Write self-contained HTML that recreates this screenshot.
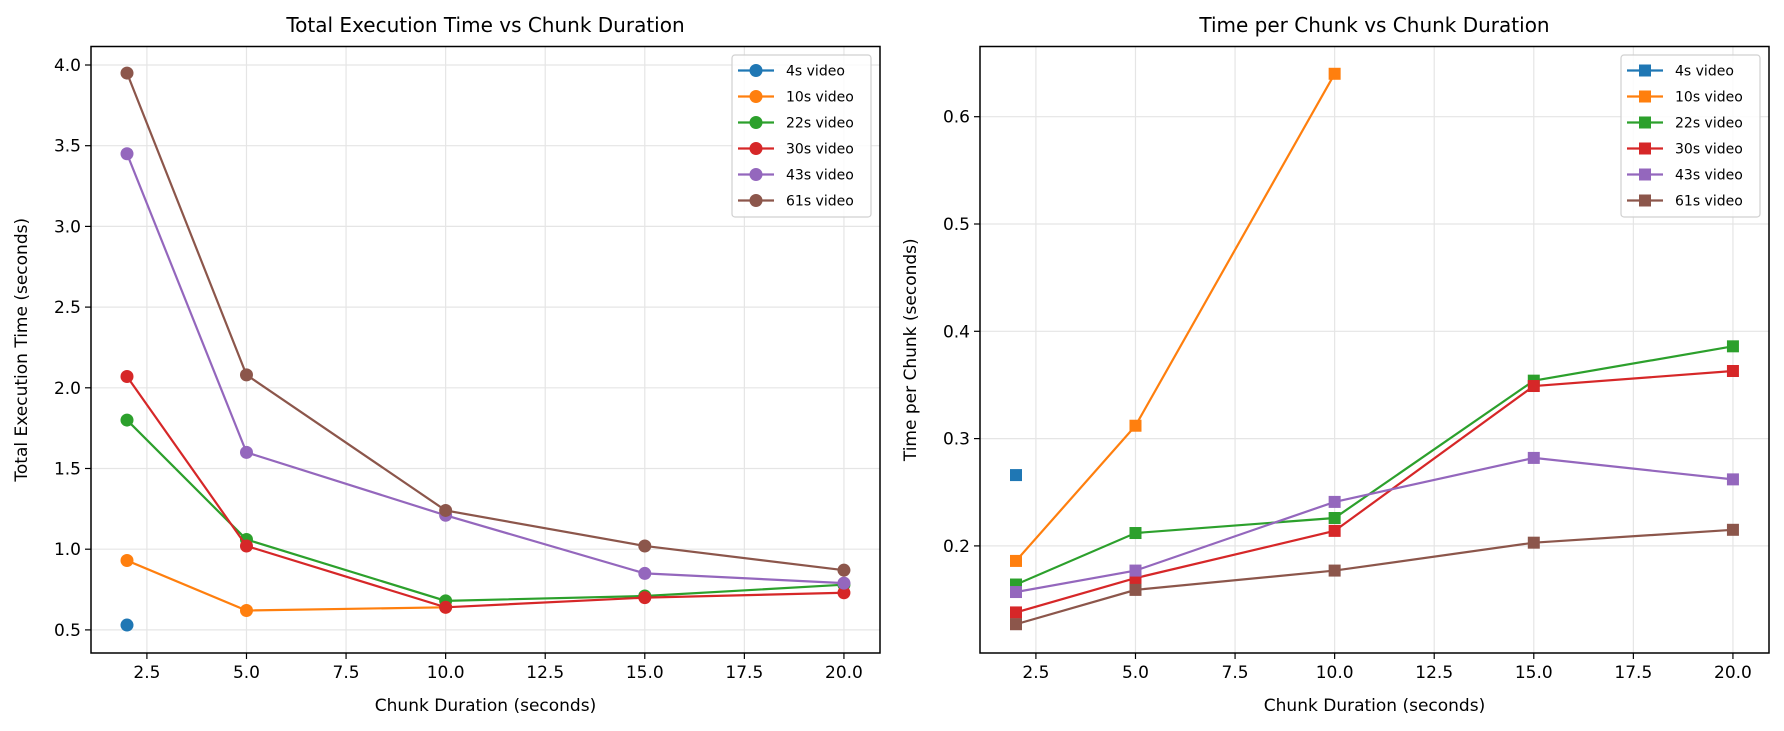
<!DOCTYPE html>
<html><head><meta charset="utf-8"><style>body{margin:0;background:#fff}svg{display:block;font-family:"DejaVu Sans","Liberation Sans",sans-serif}</style></head>
<body>
<svg id="s" width="1784" height="731" xmlns="http://www.w3.org/2000/svg"></svg>
<script>
const C=['#1f77b4','#ff7f0e','#2ca02c','#d62728','#9467bd','#8c564b'];
const N=['4s video','10s video','22s video','30s video','43s video','61s video'];
const X=[2,5,10,15,20];
const L=[[0.53],[0.93,0.62,0.64],[1.80,1.06,0.68,0.71,0.78],[2.07,1.02,0.64,0.70,0.73],[3.45,1.60,1.21,0.85,0.79],[3.95,2.08,1.24,1.02,0.87]];
const R=[[0.266],[0.186,0.312,0.640],[0.164,0.212,0.226,0.354,0.386],[0.138,0.170,0.214,0.349,0.363],[0.157,0.177,0.241,0.282,0.262],[0.127,0.159,0.177,0.203,0.215]];
let o='';
function panel(ax,data,yf,yt,ytl,title,ylab,sq){
 const x0=ax,x1=ax+789,y0=46.5,y1=653;
 const xf=v=>ax+36+(v-2)*39.83;
 for(let t=2.5;t<=20;t+=2.5){const px=xf(t);o+=`<line x1="${px}" y1="${y0}" x2="${px}" y2="${y1}" stroke="#e5e5e5" stroke-width="1.2"/><line x1="${px}" y1="${y1}" x2="${px}" y2="${y1+6}" stroke="#000" stroke-width="1.2"/><text x="${px}" y="${y1+25}" font-size="17" text-anchor="middle">${t.toFixed(1)}</text>`;}
 yt.forEach((t,i)=>{const py=yf(t);o+=`<line x1="${x0}" y1="${py}" x2="${x1}" y2="${py}" stroke="#e5e5e5" stroke-width="1.2"/><line x1="${x0-6}" y1="${py}" x2="${x0}" y2="${py}" stroke="#000" stroke-width="1.2"/><text x="${x0-10}" y="${py+6}" font-size="17" text-anchor="end">${ytl[i]}</text>`;});
 data.forEach((d,i)=>{const pts=d.map((v,j)=>[xf(X[j]),yf(v)]);
  if(pts.length>1)o+=`<polyline points="${pts.map(p=>p.join(',')).join(' ')}" fill="none" stroke="${C[i]}" stroke-width="2.2"/>`;
  pts.forEach(p=>{o+=sq?`<rect x="${p[0]-6}" y="${p[1]-6}" width="12" height="12" fill="${C[i]}"/>`:`<circle cx="${p[0]}" cy="${p[1]}" r="6.5" fill="${C[i]}"/>`;});});
 o+=`<rect x="${x0}" y="${y0}" width="${x1-x0}" height="${y1-y0}" fill="none" stroke="#000" stroke-width="1.5"/>`;
 o+=`<text x="${(x0+x1)/2}" y="32" font-size="20" text-anchor="middle">${title}</text>`;
 o+=`<text x="${(x0+x1)/2}" y="711" font-size="17" text-anchor="middle">Chunk Duration (seconds)</text>`;
 o+=`<text transform="translate(${ax-64},${(y0+y1)/2}) rotate(-90)" font-size="17" text-anchor="middle">${ylab}</text>`;
 const lx=x1-148;
 o+=`<rect x="${lx}" y="55" width="139" height="162" rx="3" fill="#fff" fill-opacity="0.85" stroke="#d0d0d0" stroke-width="1.2"/>`;
 N.forEach((n,i)=>{const ly=70.5+i*26;o+=`<line x1="${lx+6}" y1="${ly}" x2="${lx+42}" y2="${ly}" stroke="${C[i]}" stroke-width="2.2"/>`;
  o+=sq?`<rect x="${lx+18}" y="${ly-6}" width="12" height="12" fill="${C[i]}"/>`:`<circle cx="${lx+24}" cy="${ly}" r="6.5" fill="${C[i]}"/>`;
  o+=`<text x="${lx+54}" y="${ly+5}" font-size="14">${n}</text>`;});
}
panel(91,L,v=>65+(4-v)*161.4,[0.5,1,1.5,2,2.5,3,3.5,4],['0.5','1.0','1.5','2.0','2.5','3.0','3.5','4.0'],'Total Execution Time vs Chunk Duration','Total Execution Time (seconds)',false);
panel(980,R,v=>116.7+(0.6-v)*1073,[0.2,0.3,0.4,0.5,0.6],['0.2','0.3','0.4','0.5','0.6'],'Time per Chunk vs Chunk Duration','Time per Chunk (seconds)',true);
document.getElementById('s').innerHTML=o;
</script>
</body></html>
